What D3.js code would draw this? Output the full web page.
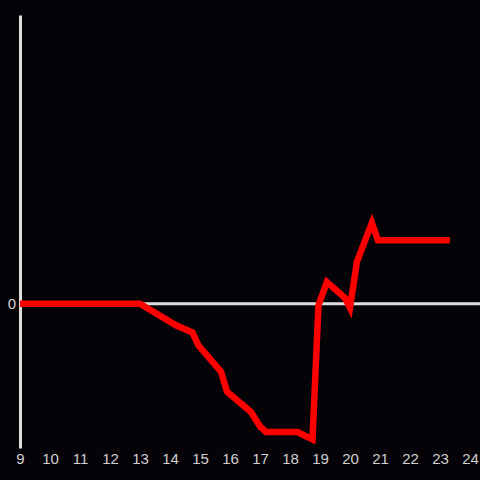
<!DOCTYPE html>
<html>
<head>
<meta charset="utf-8">
<script src="https://cdn.jsdelivr.net/npm/d3@7"></script>
<style>
  html, body { margin: 0; padding: 0; background: #050308; }
</style>
</head>
<body>
<div id="chart"></div>
<script>
var xTicks = [9, 10, 11, 12, 13, 14, 15, 16, 17, 18, 19, 20, 21, 22, 23, 24];
var yTicks = [0];
var xs = [9, 13, 14.2, 14.75, 14.95, 15.7, 15.9, 16.7, 17, 17.2, 18.25, 18.75, 18.95, 19.23, 19.83, 20.0, 20.23, 20.73, 20.93, 23.33];
var ys = [0, 0, -0.15, -0.20, -0.29, -0.47, -0.61, -0.75, -0.85, -0.89, -0.89, -0.94, -0.01, 0.15, 0.04, -0.03, 0.29, 0.56, 0.44, 0.44];

var width = 480, height = 480;

var dataset = xs.map(function(d, i) { return {x: d, y: ys[i]}; });

var xScale = d3.scaleLinear()
    .domain([9, 24])
    .range([20, 470]);

var yScale = d3.scaleLinear()
    .domain([-1, 2])
    .range([448, 15]);

var svg = d3.select("#chart").append("svg")
    .attr("width", width)
    .attr("height", height)
    .style("background", "#050308");

// x tick labels
var xAxis = svg.append("g")
    .attr("transform", "translate(0,448)")
    .call(d3.axisBottom(xScale).tickValues(xTicks).tickSize(0).tickPadding(5).tickFormat(d3.format("d")));
xAxis.select(".domain").remove();

// y axis line + 0 label
var yAxis = svg.append("g")
    .attr("transform", "translate(20,0)")
    .call(d3.axisLeft(yScale).tickValues(yTicks).tickSize(0).tickPadding(4).tickFormat(d3.format("d")));
yAxis.select(".domain")
    .attr("stroke", "#dddddd")
    .attr("stroke-width", 3);

svg.selectAll(".tick text")
    .attr("fill", "#d0d0d0")
    .attr("font-family", "'Liberation Sans', Arial, sans-serif")
    .attr("font-size", 15);

// zero line
svg.append("line")
    .attr("x1", xScale(9))
    .attr("x2", width)
    .attr("y1", yScale(0))
    .attr("y2", yScale(0))
    .attr("stroke", "#dddddd")
    .attr("stroke-width", 3);

var line = d3.line()
    .x(function(d) { return xScale(d.x); })
    .y(function(d) { return yScale(d.y); });

svg.append("path")
    .datum(dataset)
    .attr("fill", "none")
    .attr("stroke", "#ff0000")
    .attr("stroke-width", 6.5)
    .attr("d", line);
</script>
</body>
</html>
